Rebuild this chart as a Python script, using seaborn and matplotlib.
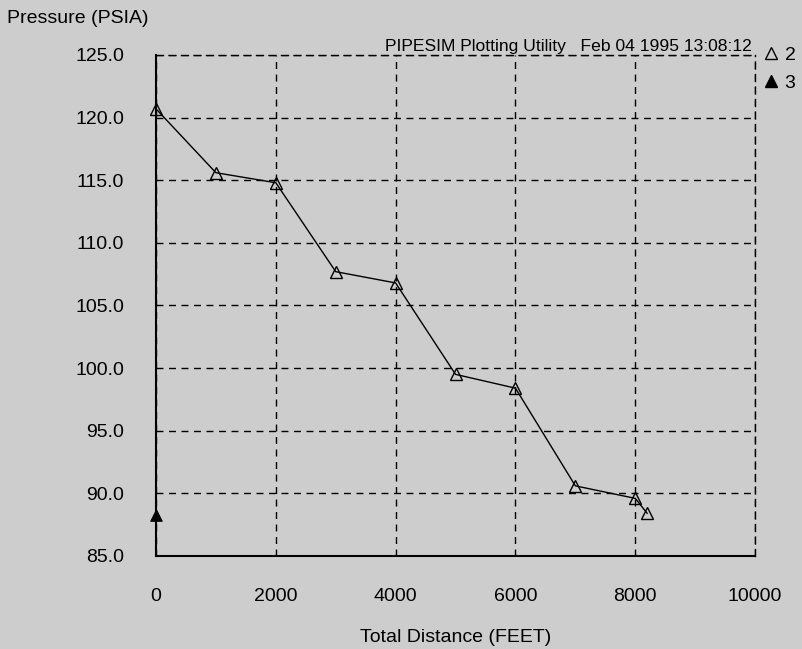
import matplotlib
matplotlib.use("Agg")
import matplotlib.pyplot as plt
import seaborn as sns
import pandas as pd
from matplotlib.lines import Line2D

# data
distance_2 = [0, 1000, 2000, 3000, 4000, 5000, 6000, 7000, 8000, 8200]
pressure_2 = [120.7, 115.6, 114.8, 107.7, 106.8, 99.5, 98.4, 90.6, 89.6, 88.4]
distance_3 = [0]
pressure_3 = [88.3]
x_ticks = [0, 2000, 4000, 6000, 8000, 10000]
y_ticks = [85.0, 90.0, 95.0, 100.0, 105.0, 110.0, 115.0, 120.0, 125.0]

sns.set_style("white")
plt.rcParams['font.family'] = ['Liberation Sans', 'DejaVu Sans']
plt.rcParams['text.color'] = 'black'
plt.rcParams['axes.labelcolor'] = 'black'
plt.rcParams['xtick.color'] = 'black'
plt.rcParams['ytick.color'] = 'black'

bg = '#cdcdcd'
fs = 14
fig = plt.figure(figsize=(8.02, 6.49), dpi=100, facecolor=bg)
ax = fig.add_axes([0.1945, 0.1433, 0.747, 0.772])
ax.set_facecolor(bg)

df2 = pd.DataFrame({'dist': distance_2, 'pres': pressure_2})
df3 = pd.DataFrame({'dist': distance_3, 'pres': pressure_3})

sns.lineplot(data=df2, x='dist', y='pres', ax=ax, color='black', linewidth=1.0,
             marker='^', markersize=8, markerfacecolor='none',
             markeredgecolor='black', markeredgewidth=1.0, clip_on=False)
sns.scatterplot(data=df3, x='dist', y='pres', ax=ax, marker='^', s=70,
                color='black', edgecolor='black', clip_on=False, zorder=5)

ax.set_xlim(0, 10000)
ax.set_ylim(85, 125)
ax.set_xticks(x_ticks)
ax.set_yticks(y_ticks)
ax.set_xticklabels([str(t) for t in x_ticks], fontsize=fs)
ax.set_yticklabels([f"{t:.1f}" for t in y_ticks], fontsize=fs)
ax.tick_params(axis='x', direction='out', length=11, width=1.2, pad=12)
ax.tick_params(axis='y', direction='out', length=10, width=1.2, pad=13)

dash = (0, (5, 4))
ax.grid(True, color='black', linestyle=dash, linewidth=1.0)
for side in ['top', 'right']:
    ax.spines[side].set_color('black')
    ax.spines[side].set_linestyle(dash)
    ax.spines[side].set_linewidth(1.0)
for side in ['left', 'bottom']:
    ax.spines[side].set_color('black')
    ax.spines[side].set_linewidth(1.5)

ax.set_xlabel('Total Distance (FEET)', fontsize=fs, labelpad=17)
ax.set_ylabel('')
fig.text(0.009, 0.972, 'Pressure (PSIA)', fontsize=fs, ha='left', va='center')

ax.text(0.995, 1.002, 'PIPESIM Plotting Utility   Feb 04 1995 13:08:12',
        transform=ax.transAxes, ha='right', va='bottom', fontsize=12.6)

handles = [Line2D([], [], linestyle='none', marker='^', markersize=8,
                  markerfacecolor='none', markeredgecolor='black'),
           Line2D([], [], linestyle='none', marker='^', markersize=8,
                  markerfacecolor='black', markeredgecolor='black')]
fig.legend(handles, ['2', '3'], loc='upper left', bbox_to_anchor=(0.9395, 0.944),
           frameon=False, fontsize=fs, handlelength=0.8, handletextpad=0.3,
           labelspacing=0.55, borderpad=0)

fig.savefig('out.png', dpi=100, facecolor=bg)
